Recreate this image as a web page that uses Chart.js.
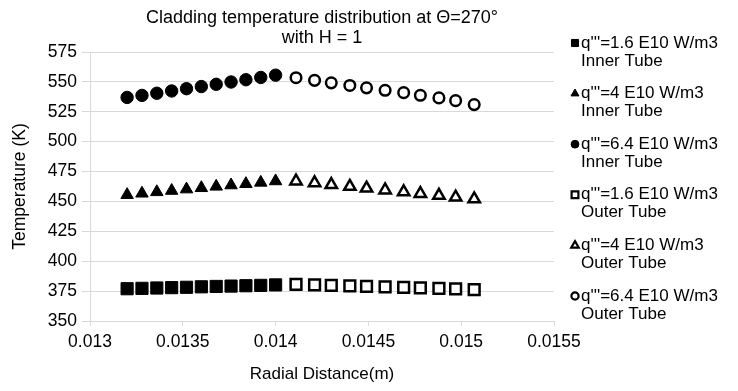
<!DOCTYPE html>
<html>
<head>
<meta charset="utf-8">
<script src="https://cdn.jsdelivr.net/npm/chart.js@4/dist/chart.umd.min.js"></script>
<style>
html,body{margin:0;padding:0;background:#fff;}
#wrap{width:738px;height:391px;position:relative;}
</style>
</head>
<body>
<div id="wrap"><canvas id="c" width="738" height="391"></canvas></div>
<script>
const titleLines = ['Cladding temperature distribution at \u0398=270\u00b0', 'with H = 1'];
const xAxisTitle = 'Radial Distance(m)';
const yAxisTitle = 'Temperature (K)';
const xTickLabels = ['0.013', '0.0135', '0.014', '0.0145', '0.015', '0.0155'];
const yTickLabels = ['350', '375', '400', '425', '450', '475', '500', '525', '550', '575'];

const innerX = [0.01320, 0.01328, 0.01336, 0.01344, 0.01352, 0.01360, 0.01368, 0.01376, 0.01384, 0.01392, 0.01400];
const outerX = [0.01411, 0.01421, 0.01430, 0.01440, 0.01449, 0.01459, 0.01469, 0.01478, 0.01488, 0.01497, 0.01507];

const inner16 = [377, 377.3, 377.6, 377.9, 378.2, 378.6, 378.9, 379.2, 379.5, 379.8, 380.2];
const inner40 = [455.5, 456.7, 457.9, 459, 460.2, 461.3, 462.5, 463.6, 464.7, 465.8, 467];
const inner64 = [537, 538.7, 540.5, 542.4, 544.3, 546.1, 548, 549.9, 551.8, 553.7, 555.6];
const outer16 = [380.6, 380.2, 379.8, 379.4, 379, 378.5, 378.1, 377.7, 377.2, 376.8, 376.3];
const outer40 = [467, 465.5, 464, 462.5, 461, 459.5, 458, 456.5, 455, 453.5, 452];
const outer64 = [553.5, 551.3, 549.2, 547, 545, 543, 541, 538.8, 536.6, 534.3, 531];

const seriesLabels = [
  ["q'''=1.6 E10 W/m3", 'Inner Tube'],
  ["q'''=4 E10 W/m3", 'Inner Tube'],
  ["q'''=6.4 E10 W/m3", 'Inner Tube'],
  ["q'''=1.6 E10 W/m3", 'Outer Tube'],
  ["q'''=4 E10 W/m3", 'Outer Tube'],
  ["q'''=6.4 E10 W/m3", 'Outer Tube']
];

const FONT = "'Liberation Sans', Arial, sans-serif";

function pts(xs, ys) { return xs.map((x, i) => ({x: x, y: ys[i]})); }

function ds(label, data, style, filled, radius, legendRadius) {
  return {
    label: label.join(' '),
    data: data,
    showLine: false,
    pointStyle: style,
    pointRadius: radius,
    pointHoverRadius: radius,
    pointBackgroundColor: filled ? '#000' : '#fff',
    pointBorderColor: '#000',
    pointBorderWidth: filled ? 1 : 2.5,
    legendRadius: legendRadius,
    legendLines: label,
    filled: filled
  };
}

const datasets = [
  ds(seriesLabels[0], pts(innerX, inner16), 'rect', true, 8.6, 5),
  ds(seriesLabels[1], pts(innerX, inner40), 'triangle', true, 7.2, 4.6),
  ds(seriesLabels[2], pts(innerX, inner64), 'circle', true, 6.2, 3.9),
  ds(seriesLabels[3], pts(outerX, outer16), 'rect', false, 7.6, 4.8),
  ds(seriesLabels[4], pts(outerX, outer40), 'triangle', false, 6.6, 4.3),
  ds(seriesLabels[5], pts(outerX, outer64), 'circle', false, 5.3, 3.6)
];

const customText = {
  id: 'customText',
  afterDraw(chart) {
    const ctx = chart.ctx;
    const ca = chart.chartArea;
    ctx.save();
    // title
    ctx.fillStyle = '#000';
    ctx.font = '18px ' + FONT;
    ctx.textAlign = 'center';
    ctx.textBaseline = 'middle';
    const cx = (ca.left + ca.right) / 2;
    ctx.fillText(titleLines[0], cx, 18);
    ctx.fillText(titleLines[1], cx, 38);
    // legend
    ctx.font = '17px ' + FONT;
    ctx.textAlign = 'left';
    chart.data.datasets.forEach((d, i) => {
      const y = 43 + i * 50.6;
      ctx.save();
      ctx.fillStyle = d.filled ? '#000' : '#fff';
      ctx.strokeStyle = '#000';
      ctx.lineWidth = d.filled ? 1 : 2.2;
      Chart.helpers.drawPoint(ctx, {pointStyle: d.pointStyle, radius: d.legendRadius, rotation: 0, borderWidth: ctx.lineWidth}, 575, y);
      ctx.restore();
      ctx.fillStyle = '#000';
      ctx.fillText(d.legendLines[0], 581, y);
      ctx.fillText(d.legendLines[1], 581, y + 18);
    });
    ctx.restore();
  }
};

new Chart(document.getElementById('c'), {
  type: 'scatter',
  data: {datasets: datasets},
  options: {
    responsive: false,
    animation: false,
    devicePixelRatio: 1,
    layout: {padding: {top: 52, right: 184, left: 0, bottom: 0}},
    plugins: {legend: {display: false}, title: {display: false}, tooltip: {enabled: false}},
    scales: {
      x: {
        type: 'linear',
        min: 0.013, max: 0.0155,
        afterFit(s) { s.height = 70; },
        afterBuildTicks(s) { s.ticks = xTickLabels.map(v => ({value: parseFloat(v)})); },
        ticks: {
          callback: (v, i) => xTickLabels[i],
          font: {family: FONT, size: 17.5},
          color: '#000',
          padding: 6,
          maxRotation: 0
        },
        grid: {drawOnChartArea: false, drawTicks: true, tickLength: 5, color: '#d9d9d9'},
        border: {display: true, color: '#d9d9d9'},
        title: {display: true, text: xAxisTitle, font: {family: FONT, size: 17}, color: '#000', padding: {top: 4, bottom: 6}}
      },
      y: {
        min: 350, max: 575,
        afterFit(s) { s.width = 90; },
        afterBuildTicks(s) { s.ticks = yTickLabels.map(v => ({value: parseFloat(v)})); },
        ticks: {
          callback: (v, i) => yTickLabels[i],
          font: {family: FONT, size: 17.5},
          color: '#000',
          padding: 5
        },
        grid: {color: '#d9d9d9', tickLength: 8, lineWidth: 1},
        border: {display: true, color: '#d9d9d9'},
        title: {display: true, text: yAxisTitle, font: {family: FONT, size: 17.5}, color: '#000', padding: {top: 10, bottom: 0}}
      }
    }
  },
  plugins: [customText]
});
</script>
</body>
</html>
